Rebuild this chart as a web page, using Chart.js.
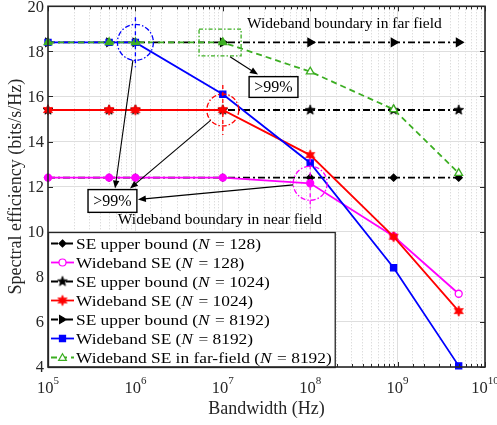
<!DOCTYPE html>
<html>
<head>
<meta charset="utf-8">
<script src="https://cdn.jsdelivr.net/npm/chart.js@4.4.0/dist/chart.umd.min.js"></script>
<style>
  html, body { margin: 0; padding: 0; background: #fff; }
  #wrap { width: 497px; height: 425px; }
</style>
</head>
<body>
<div id="wrap"><canvas id="c"></canvas></div>
<script>
// data
const bandwidth = [1e5, 5e5, 1e6, 1e7, 1e8, 9e8, 5e9];
const ubN128  = [12.4, 12.4, 12.4, 12.4, 12.4, 12.4, 12.4];
const wbN128  = [12.4, 12.4, 12.4, 12.4, 12.15, 9.8, 7.25];
const ubN1024 = [15.4, 15.4, 15.4, 15.4, 15.4, 15.4, 15.4];
const wbN1024 = [15.4, 15.4, 15.4, 15.4, 13.4, 9.78, 6.48];
const ubN8192 = [18.4, 18.4, 18.4, 18.4, 18.4, 18.4, 18.4];
const wbN8192 = [18.4, 18.4, 18.4, 16.1, 13.05, 8.4, 4.05];
const ffN8192 = [18.4, 18.4, 18.4, 18.4, 17.1, 15.43, 12.6];

const legendNames = ['SE upper bound', 'Wideband SE', 'SE upper bound', 'Wideband SE',
  'SE upper bound', 'Wideband SE', 'Wideband SE in far-field'];
const legendN = ['128', '128', '1024', '1024', '8192', '8192', '8192'];
const xTickExp = [5, 6, 7, 8, 9, 10];
const yTicks = [4, 6, 8, 10, 12, 14, 16, 18, 20];

const SERIF = '"Liberation Serif", "Times New Roman", serif';
const INK = '#262626';
const GREEN = '#3cae22';

// annotation anchors in data coordinates
const farRect = { x0: 5.35e6, x1: 1.62e7, y0: 17.8, y1: 18.99 };
const farBox = { x0: 2.0e7, x1: 7.24e7, y0: 15.96, y1: 16.88 };
const farArrow = { x0: 1.21e7, y0: 17.76, x1: 2.53e7, y1: 16.97 };
const farText = { x: 1.89e7, y: 19.21 };
const nearBox = { x0: 2.87e5, x1: 1.04e6, y0: 10.86, y1: 11.87 };
const nearText = { x: 6.3e5, y: 10.51 };

function starCanvas(n, rOut, rIn, color) {
  const size = 14;
  const cv = document.createElement('canvas');
  cv.width = cv.height = size;
  const g = cv.getContext('2d');
  g.translate(size / 2, size / 2);
  g.beginPath();
  for (let i = 0; i < 2 * n; i++) {
    const r = i % 2 ? rIn : rOut;
    const a = -Math.PI / 2 + i * Math.PI / n;
    g.lineTo(r * Math.cos(a), r * Math.sin(a));
  }
  g.closePath();
  g.fillStyle = color;
  g.fill();
  g.strokeStyle = color;
  g.lineWidth = 0.8;
  g.stroke();
  return cv;
}
const blackStar = starCanvas(5, 5.2, 2.2, '#000');
const redStar = starCanvas(6, 5.2, 2.7, '#ff0000');

const pts = ys => bandwidth.map((x, i) => ({ x, y: ys[i] }));
const hollowFrom = (color, k) => ctx => ctx.dataIndex < k ? color : '#fff';

const datasets = [
  { label: 'SE upper bound (N = 128)', data: pts(ubN128), borderColor: '#000', borderDash: [7, 3, 2, 3],
    pointStyle: 'rectRot', pointRadius: 3.5, backgroundColor: '#000', pointBackgroundColor: '#000' },
  { label: 'Wideband SE (N = 128)', data: pts(wbN128), borderColor: '#ff00ff',
    pointStyle: 'circle', pointRadius: 3.5, backgroundColor: '#fff', pointBackgroundColor: hollowFrom('#ff00ff', 6) },
  { label: 'SE upper bound (N = 1024)', data: pts(ubN1024), borderColor: '#000', borderDash: [7, 3, 2, 3],
    pointStyle: blackStar, pointRadius: 5 },
  { label: 'Wideband SE (N = 1024)', data: pts(wbN1024), borderColor: '#ff0000',
    pointStyle: redStar, pointRadius: 5 },
  { label: 'SE upper bound (N = 8192)', data: pts(ubN8192), borderColor: '#000', borderDash: [7, 3, 2, 3],
    pointStyle: 'triangle', pointRotation: 90, pointRadius: 4.5, backgroundColor: '#000', pointBackgroundColor: '#000' },
  { label: 'Wideband SE (N = 8192)', data: pts(wbN8192), borderColor: '#0000ff',
    pointStyle: 'rect', pointRadius: 4.3, backgroundColor: '#0000ff', pointBackgroundColor: '#0000ff' },
  { label: 'Wideband SE in far-field (N = 8192)', data: pts(ffN8192), borderColor: GREEN, borderDash: [6, 4],
    pointStyle: 'triangle', pointRadius: 4.5, backgroundColor: '#fff', pointBackgroundColor: hollowFrom(GREEN, 4) }
].map((d, i) => Object.assign({
  borderWidth: 1.8, pointBorderWidth: 1.3, pointBorderColor: d.borderColor,
  pointHoverRadius: d.pointRadius, fill: false, tension: 0, clip: false, order: 10 - i
}, d));

const isMajor = v => Math.abs(Math.log10(v) - Math.round(Math.log10(v))) < 1e-9;

function drawMarker(ctx, ds, x, y, legend) {
  const st = ds.pointStyle, r = ds.pointRadius;
  if (st instanceof HTMLCanvasElement) {
    ctx.drawImage(st, x - st.width / 2, y - st.height / 2);
    return;
  }
  ctx.save();
  ctx.setLineDash([]);
  ctx.lineWidth = 1.2;
  ctx.strokeStyle = ds.borderColor;
  ctx.fillStyle = legend ? ds.backgroundColor : ds.borderColor;
  ctx.translate(x, y);
  ctx.rotate((ds.pointRotation || 0) * Math.PI / 180);
  ctx.beginPath();
  if (st === 'circle') ctx.arc(0, 0, r, 0, 2 * Math.PI);
  else if (st === 'rectRot') { ctx.moveTo(0, -r); ctx.lineTo(r, 0); ctx.lineTo(0, r); ctx.lineTo(-r, 0); ctx.closePath(); }
  else if (st === 'rect') { const h = r * Math.SQRT1_2; ctx.rect(-h, -h, 2 * h, 2 * h); }
  else if (st === 'triangle') {
    for (let k = 0; k < 3; k++) {
      const a = -Math.PI / 2 + k * 2 * Math.PI / 3;
      ctx.lineTo(r * Math.cos(a), r * Math.sin(a) + r * 0.15);
    }
    ctx.closePath();
  }
  ctx.fill();
  ctx.stroke();
  ctx.restore();
}

function arrow(ctx, x0, y0, x1, y1) {
  const a = Math.atan2(y1 - y0, x1 - x0), L = 8, W = 3.2;
  ctx.setLineDash([]);
  ctx.strokeStyle = '#000';
  ctx.fillStyle = '#000';
  ctx.lineWidth = 1.1;
  ctx.beginPath();
  ctx.moveTo(x0, y0);
  ctx.lineTo(x1 - L * 0.8 * Math.cos(a), y1 - L * 0.8 * Math.sin(a));
  ctx.stroke();
  ctx.beginPath();
  ctx.moveTo(x1, y1);
  ctx.lineTo(x1 - L * Math.cos(a) + W * Math.sin(a), y1 - L * Math.sin(a) - W * Math.cos(a));
  ctx.lineTo(x1 - L * Math.cos(a) - W * Math.sin(a), y1 - L * Math.sin(a) + W * Math.cos(a));
  ctx.closePath();
  ctx.fill();
}

const figure = {
  id: 'figure',
  afterDatasetsDraw(chart) {
    const { ctx, scales: { x, y } } = chart;
    const X = v => x.getPixelForValue(v), Y = v => y.getPixelForValue(v);
    ctx.save();

    // dash-dot circles marking the wideband boundaries
    const rings = [
      { cx: X(bandwidth[2]), cy: Y(wbN8192[2]), r: 18, c: '#0000ff' },
      { cx: X(bandwidth[3]), cy: Y(wbN1024[3]), r: 16, c: '#ff0000' },
      { cx: X(bandwidth[4]), cy: Y(wbN128[4]), r: 17, c: '#ff00ff' }
    ];
    ctx.lineWidth = 1.3;
    rings.forEach(k => {
      ctx.strokeStyle = k.c;
      ctx.setLineDash([5, 2, 1.5, 2]);
      ctx.beginPath();
      ctx.arc(k.cx, k.cy, k.r, 0, 2 * Math.PI);
      ctx.stroke();
      ctx.setLineDash([4, 3]);
      ctx.beginPath();
      ctx.moveTo(k.cx, k.cy - 25);
      ctx.lineTo(k.cx, k.cy + 25);
      ctx.stroke();
    });

    // far field rectangle
    ctx.strokeStyle = GREEN;
    ctx.lineWidth = 1.3;
    ctx.setLineDash([4, 2, 1.5, 2]);
    ctx.strokeRect(X(farRect.x0), Y(farRect.y1), X(farRect.x1) - X(farRect.x0), Y(farRect.y0) - Y(farRect.y1));

    // boxes with >99%
    ctx.font = '16px ' + SERIF;
    ctx.textAlign = 'center';
    ctx.textBaseline = 'middle';
    [farBox, nearBox].forEach(b => {
      const bx = X(b.x0), by = Y(b.y1), bw = X(b.x1) - bx, bh = Y(b.y0) - by;
      ctx.setLineDash([]);
      ctx.fillStyle = '#fff';
      ctx.fillRect(bx, by, bw, bh);
      ctx.strokeStyle = '#000';
      ctx.lineWidth = 1.4;
      ctx.strokeRect(bx, by, bw, bh);
      ctx.fillStyle = '#000';
      ctx.fillText('>99%', bx + bw / 2, by + bh / 2 + 1);
    });

    // arrows
    arrow(ctx, X(farArrow.x0), Y(farArrow.y0), X(farArrow.x1), Y(farArrow.y1));
    const targets = [
      { x: X(5.85e5), y: Y(nearBox.y1) - 1 },
      { x: X(8.67e5), y: Y(nearBox.y1) - 1 },
      { x: X(nearBox.x1) + 1, y: Y(11.43) }
    ];
    rings.forEach((k, i) => {
      const t = targets[i];
      const d = Math.hypot(t.x - k.cx, t.y - k.cy);
      arrow(ctx, k.cx + (t.x - k.cx) * k.r / d, k.cy + (t.y - k.cy) * k.r / d, t.x, t.y);
    });

    // captions
    ctx.font = '15.5px ' + SERIF;
    ctx.fillStyle = '#000';
    ctx.textAlign = 'left';
    ctx.fillText('Wideband boundary in far field', X(farText.x), Y(farText.y));
    ctx.fillText('Wideband boundary in near field', X(nearText.x), Y(nearText.y));
    ctx.restore();
  },
  afterDraw(chart) {
    const { ctx, chartArea: a, scales: { x, y } } = chart;
    const X = v => x.getPixelForValue(v), Y = v => y.getPixelForValue(v);
    ctx.save();
    ctx.setLineDash([]);
    ctx.strokeStyle = INK;
    ctx.lineWidth = 1;

    // inward tick marks on all four sides
    ctx.beginPath();
    x.ticks.forEach(t => {
      const px = Math.round(X(t.value)) + 0.5, len = isMajor(t.value) ? 5 : 3;
      ctx.moveTo(px, a.bottom); ctx.lineTo(px, a.bottom - len);
      ctx.moveTo(px, a.top); ctx.lineTo(px, a.top + len);
    });
    yTicks.forEach(v => {
      const py = Math.round(Y(v)) + 0.5;
      ctx.moveTo(a.left, py); ctx.lineTo(a.left + 5, py);
      ctx.moveTo(a.right, py); ctx.lineTo(a.right - 5, py);
    });
    ctx.stroke();

    // legend (text stretched a little to mimic the wider LaTeX font)
    const rowH = 19, top = a.bottom - 7 * rowH - 2, stretch = 1.12;
    const roman = '15.5px ' + SERIF, italic = 'italic 15.5px ' + SERIF;
    const parts = chart.data.datasets.map((ds, i) => [legendNames[i] + ' (', 'N', ' = ' + legendN[i] + ')']);
    let maxW = 0;
    parts.forEach(p => {
      ctx.font = roman;
      let w = ctx.measureText(p[0]).width + ctx.measureText(p[2]).width;
      ctx.font = italic;
      w += ctx.measureText(p[1]).width + 1;
      maxW = Math.max(maxW, w * stretch);
    });
    const textX = a.left + 28;
    const boxR = textX + maxW + 3;
    ctx.fillStyle = '#fff';
    ctx.fillRect(a.left, top, boxR - a.left, a.bottom - top);
    chart.data.datasets.forEach((ds, i) => {
      const cy = top + 11.5 + i * rowH;
      ctx.strokeStyle = ds.borderColor;
      ctx.lineWidth = 1.8;
      ctx.setLineDash(ds.borderDash || []);
      ctx.beginPath();
      ctx.moveTo(a.left + 3, cy); ctx.lineTo(a.left + 26, cy);
      ctx.stroke();
      drawMarker(ctx, ds, a.left + 14.5, cy, true);
      ctx.save();
      ctx.translate(textX, cy + 1);
      ctx.scale(stretch, 1);
      ctx.fillStyle = '#000';
      ctx.textAlign = 'left';
      ctx.textBaseline = 'middle';
      let tx = 0;
      const p = parts[i];
      ctx.font = roman; ctx.fillText(p[0], tx, 0); tx += ctx.measureText(p[0]).width;
      ctx.font = italic; ctx.fillText(p[1], tx, 0); tx += ctx.measureText(p[1]).width + 1;
      ctx.font = roman; ctx.fillText(p[2], tx, 0);
      ctx.restore();
    });
    ctx.setLineDash([]);
    ctx.strokeStyle = INK;
    ctx.lineWidth = 1.3;
    ctx.strokeRect(a.left + 0.5, top + 0.5, boxR - a.left, a.bottom - top);

    // axes box
    ctx.lineWidth = 1.6;
    ctx.strokeRect(a.left, a.top, a.right - a.left, a.bottom - a.top);

    // tick labels
    ctx.fillStyle = INK;
    ctx.textBaseline = 'middle';
    ctx.textAlign = 'right';
    ctx.font = '16.5px ' + SERIF;
    yTicks.forEach(v => ctx.fillText(String(v), a.left - 4, Y(v) + 1));
    ctx.textBaseline = 'alphabetic';
    ctx.textAlign = 'left';
    xTickExp.forEach(e => {
      ctx.font = '16.5px ' + SERIF;
      const w10 = ctx.measureText('10').width;
      ctx.font = '11px ' + SERIF;
      const we = ctx.measureText(String(e)).width;
      const sx = X(Math.pow(10, e)) - (w10 + we) / 2;
      ctx.font = '16.5px ' + SERIF;
      ctx.fillText('10', sx, a.bottom + 26);
      ctx.font = '11px ' + SERIF;
      ctx.fillText(String(e), sx + w10, a.bottom + 17);
    });

    // axis titles
    ctx.font = '18px ' + SERIF;
    ctx.textAlign = 'center';
    ctx.textBaseline = 'middle';
    ctx.fillText('Bandwidth (Hz)', (a.left + a.right) / 2, a.bottom + 42);
    ctx.translate(16, (a.top + a.bottom) / 2);
    ctx.rotate(-Math.PI / 2);
    ctx.fillText('Spectral efficiency (bits/s/Hz)', 0, 0);
    ctx.restore();
  }
};

new Chart(document.getElementById('c'), {
  type: 'line',
  data: { datasets },
  options: {
    responsive: true,
    maintainAspectRatio: false,
    animation: false,
    layout: { padding: { top: 4, right: 12, left: 0, bottom: 0 } },
    plugins: { legend: { display: false }, tooltip: { enabled: false } },
    scales: {
      x: {
        type: 'logarithmic',
        min: 1e5,
        max: 1e10,
        ticks: { display: false, autoSkip: false },
        grid: {
          drawTicks: false,
          lineWidth: 1,
          color: c => isMajor(c.tick.value) ? '#dedede' : '#cfcfcf'
        },
        border: { display: false, dash: c => isMajor(c.tick.value) ? [] : [1, 2] },
        afterFit: s => { s.height = 58; }
      },
      y: {
        min: 4,
        max: 20,
        ticks: { display: false, stepSize: 2 },
        grid: { drawTicks: false, color: '#dedede', lineWidth: 1 },
        border: { display: false },
        afterFit: s => { s.width = 48; }
      }
    }
  },
  plugins: [figure]
});
</script>
</body>
</html>
